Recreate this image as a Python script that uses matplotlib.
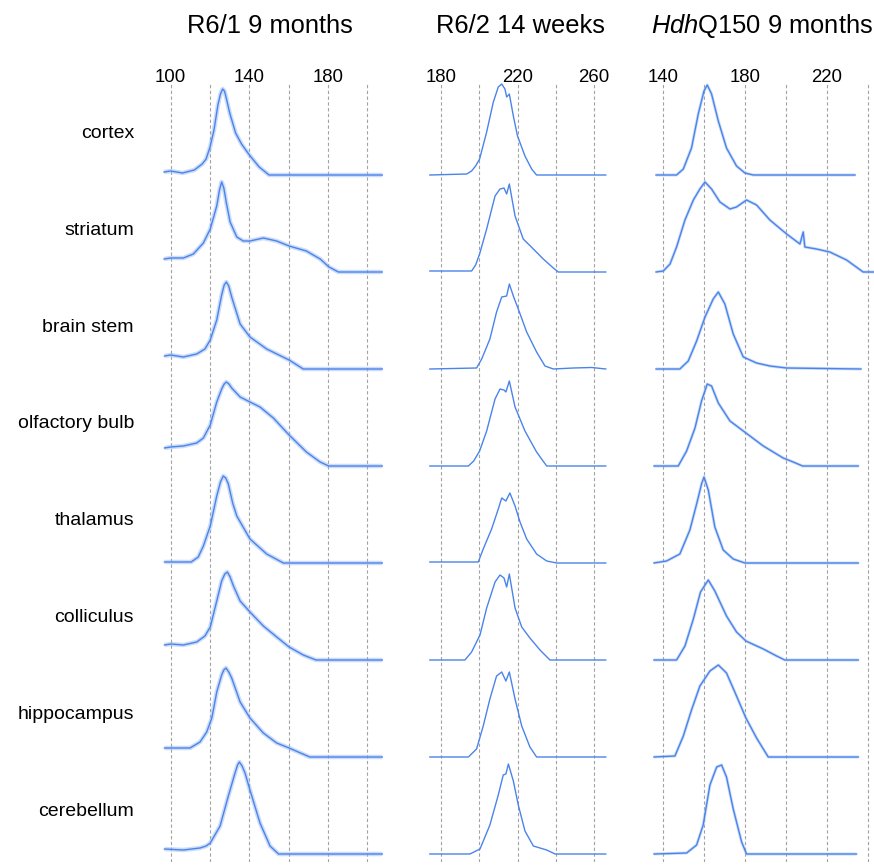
"""
CAG repeat size profiles across brain regions for three mouse lines.
Heights are read off the reference picture (pixels above each trace's baseline).
"""

import matplotlib
matplotlib.use("Agg")
import matplotlib.pyplot as plt
from matplotlib.transforms import blended_transform_factory

plt.rcParams["font.family"] = ["Liberation Sans", "DejaVu Sans"]
plt.rcParams["mathtext.fontset"] = "custom"
plt.rcParams["mathtext.rm"] = "Liberation Sans"
plt.rcParams["mathtext.it"] = "Liberation Sans:italic"

REGIONS = ["cortex", "striatum", "brain stem", "olfactory bulb",
           "thalamus", "colliculus", "hippocampus", "cerebellum"]
TITLES = ["R6/1 9 months", "R6/2 14 weeks", r"$\it{Hdh}$Q150 9 months"]
TICK_LABELS = [[100, 140, 180], [180, 220, 260], [140, 180, 220]]
GRID_VALUES = [list(range(100, 201, 20)), list(range(180, 261, 20)), list(range(140, 241, 20))]

# ---- R6/1 9 months ----
r61_cortex_x = [96.6, 100, 106, 112, 116, 118, 120, 122, 124, 125.3, 126.4, 127.3, 128, 130, 133, 136, 140, 145, 150, 207.6]
r61_cortex_h = [3, 4, 2, 5, 11, 16, 28, 45, 70, 81, 86, 84, 79, 62, 42, 31, 20, 8, 0, 0]
r61_striatum_x = [96.6, 100, 106.4, 111.5, 116.6, 120.1, 123.4, 124.8, 125.9, 127, 128.4, 130.2, 133.6, 136.9, 140.3,
                  147.1, 153.9, 160.2, 169, 176, 180.5, 185.3, 207.6]
r61_striatum_h = [13, 14, 14, 18, 29, 43, 66, 82, 90, 84, 68, 50, 35, 31, 31, 34, 31, 26, 21, 13, 5, 0, 0]
r61_brainstem_x = [96.8, 100, 106.4, 113.2, 117.4, 120.1, 123.4, 125.9, 127.2, 128.3, 129.5, 131, 135.3, 140.3,
                   148.8, 160.2, 167.4, 207.6]
r61_brainstem_h = [13, 14, 12, 15, 20, 29, 49, 74, 84, 87, 83, 72, 45, 32, 20, 9, 0, 0]
r61_olfactory_x = [96.8, 100, 106.4, 113.2, 116.6, 120.1, 123.4, 125.9, 127.2, 128.3, 129.6, 131, 135.3, 140.3, 145.4,
                   152.2, 160.2, 169, 176, 180.3, 207.6]
r61_olfactory_h = [18, 19, 20, 23, 28, 41, 64, 77, 82, 84, 82, 78, 69, 64, 59, 48, 31, 14, 4, 0, 0]
r61_thalamus_x = [96.8, 110.4, 114, 116.6, 120.1, 123.4, 125.3, 126.7, 128, 129.3, 131.5, 133.6, 140.3, 148.8, 157.3, 207.6]
r61_thalamus_h = [1, 1, 6, 17, 37, 67, 81, 87, 85, 79, 60, 47, 24, 9, 0, 0]
r61_colliculus_x = [96.8, 100, 106.4, 113.2, 117.4, 120.1, 123.4, 125.9, 127.5, 128.8, 130.2, 131.9, 135.3, 140.3,
                    147.1, 153.9, 160.2, 167.4, 173.9, 207.6]
r61_colliculus_h = [15, 16, 15, 18, 24, 33, 59, 79, 86, 88, 83, 74, 59, 48, 34, 23, 13, 5, 0, 0]
r61_hippocampus_x = [96.8, 100, 109.8, 114.9, 118.3, 120.9, 123.4, 125.9, 127, 128.1, 129.5, 131, 135.3, 140.3,
                     147.1, 153.9, 160.2, 170.7, 207.6]
r61_hippocampus_h = [9, 9, 9, 15, 25, 39, 65, 82, 87, 89, 85, 79, 55, 39, 24, 14, 9, 0, 0]
r61_cerebellum_x = [96.8, 106.4, 114.9, 118, 120.1, 125.1, 129.3, 132.7, 134, 134.9, 136.3, 137.8, 140.3, 145.4,
                    150.5, 154.8, 207.6]
r61_cerebellum_h = [5, 4, 6, 8, 11, 28, 58, 81, 89, 92, 88, 81, 64, 31, 8, 0, 0]

# ---- R6/2 14 weeks ----
r62_cortex_x = [174, 193.3, 195.9, 198, 200.1, 203.8, 207.3, 209.9, 211.7, 213.4, 214.3, 215.7, 217.8, 220, 223.9,
                227.4, 230, 266.3]
r62_cortex_h = [0, 1, 4, 9, 16, 43, 73, 88, 91, 86, 78, 81, 59, 39, 19, 6, 0, 0]
r62_striatum_x = [174, 195.9, 198, 200.1, 203.8, 208.2, 210.8, 212.9, 214.3, 215.7, 218.7, 223, 228.3, 233.5, 238.8,
                  241.4, 266.3]
r62_striatum_h = [1, 1, 7, 18, 43, 76, 83, 84, 78, 88, 56, 33, 23, 13, 4, 0, 0]
r62_brainstem_x = [174, 198.5, 201.2, 205.5, 209, 211.7, 214.3, 215.7, 217.8, 220.4, 224.8, 230, 234.4, 238.8,
                   249.3, 259, 266.3]
r62_brainstem_h = [0, 1, 10, 30, 57, 72, 73, 85, 73, 60, 37, 17, 3, 0, 1, 1.5, 0]
r62_olfactory_x = [174, 194.2, 197, 200.1, 203.8, 208.2, 210.8, 212.9, 213.9, 215.7, 218.7, 223.9, 230, 235.3, 266.3]
r62_olfactory_h = [0, 0, 5, 15, 35, 67, 77, 76, 74, 85, 59, 35, 14, 0, 0]
r62_thalamus_x = [174, 199.4, 202, 206.4, 209.9, 211.7, 213.9, 216, 218.7, 221.3, 224.8, 230, 235.3, 240.5, 266.3]
r62_thalamus_h = [1, 1, 14, 34, 54, 65, 62, 70, 57, 41, 24, 9, 2, 0, 0]
r62_colliculus_x = [174, 192.4, 195.9, 200.3, 203.8, 208.2, 210.8, 212.9, 214.3, 215.7, 218.7, 222.2, 226.5, 231.8,
                    237, 266.3]
r62_colliculus_h = [0, 0, 8, 25, 52, 78, 85, 82, 73, 86, 52, 33, 22, 10, 0, 0]
r62_hippocampus_x = [174, 194.2, 198.5, 202, 205.5, 209, 211.7, 213.9, 215.7, 218.7, 222.2, 226.5, 230, 266.3]
r62_hippocampus_h = [0, 0, 8, 31, 58, 81, 85, 76, 85, 58, 31, 10, 0, 0]
r62_cerebellum_x = [174, 195, 200.3, 205.5, 209.9, 212.5, 213.9, 215.2, 217.8, 220.4, 223.9, 228.3, 235.3, 239.7, 266.3]
r62_cerebellum_h = [0, 0, 5, 29, 59, 79, 80, 90, 73, 49, 23, 8, 4, 0, 0]

# ---- HdhQ150 9 months ----
q150_cortex_x = [136.4, 146.5, 149.8, 153.8, 157.1, 159.9, 161.5, 163.6, 166.9, 170.9, 175.8, 179.9, 184, 233.8]
q150_cortex_h = [0, 0, 6, 27, 61, 84, 90, 81, 54, 27, 9, 2, 0, 0]
q150_striatum_x = [136.4, 140, 143.3, 146.5, 150.6, 154.7, 157.9, 160.4, 163.6, 167.7, 172.6, 175.8, 180.7,
                   185.6, 192.1, 200.3, 206.8, 208.4, 209.2, 214.9, 221.4, 229.6, 237.7, 243.4]
q150_striatum_h = [0, 1, 8, 25, 52, 72, 83, 90, 83, 70, 63, 65, 72, 67, 52, 38, 28, 40, 25, 23, 20, 12, 0, 0]
q150_brainstem_x = [136.4, 148.1, 152.2, 156.3, 160.4, 164.4, 166.9, 170.1, 174.2, 179.1, 185.6, 192.1, 200.3, 236.7]
q150_brainstem_h = [0, 0, 8, 28, 52, 70, 77, 65, 35, 12, 6, 3, 1, 0]
q150_olfactory_x = [135.4, 147.3, 151.4, 155.5, 158.7, 161.5, 163.6, 166.9, 172.6, 180.4, 188.9, 198.6, 203.5,
                    208.1, 235.4]
q150_olfactory_h = [0, 0, 15, 38, 65, 82, 80, 63, 45, 33, 20, 8, 4, 0, 0]
q150_thalamus_x = [135.4, 141.6, 148.1, 153, 156.3, 158.7, 159.9, 162, 165.2, 169.3, 174.2, 179.9, 235.4]
q150_thalamus_h = [0, 2, 9, 33, 59, 79, 86, 73, 36, 13, 4, 0, 0]
q150_colliculus_x = [135.4, 146.5, 150.6, 154.7, 158.2, 162, 165.2, 170.9, 175.8, 180.4, 188.9, 195.4, 199.4, 235.4]
q150_colliculus_h = [0, 0, 14, 41, 68, 80, 69, 44, 28, 19, 11, 4, 0, 0]
q150_hippocampus_x = [135.4, 145.7, 149.8, 153.8, 157.9, 162.8, 166.9, 170.9, 175.8, 180.4, 185.6, 191.3, 235.4]
q150_hippocampus_h = [0, 1, 21, 47, 71, 86, 92, 84, 61, 39, 19, 0, 0]
q150_cerebellum_x = [135.4, 151.4, 156.3, 159.5, 162.8, 166.1, 168.5, 170.9, 174.2, 178.3, 180.7, 234.5]
q150_cerebellum_h = [0, 1, 9, 29, 69, 87, 89, 77, 45, 12, 0, 0]

R61 = [(r61_cortex_x, r61_cortex_h), (r61_striatum_x, r61_striatum_h), (r61_brainstem_x, r61_brainstem_h),
       (r61_olfactory_x, r61_olfactory_h), (r61_thalamus_x, r61_thalamus_h), (r61_colliculus_x, r61_colliculus_h),
       (r61_hippocampus_x, r61_hippocampus_h), (r61_cerebellum_x, r61_cerebellum_h)]
R62 = [(r62_cortex_x, r62_cortex_h), (r62_striatum_x, r62_striatum_h), (r62_brainstem_x, r62_brainstem_h),
       (r62_olfactory_x, r62_olfactory_h), (r62_thalamus_x, r62_thalamus_h), (r62_colliculus_x, r62_colliculus_h),
       (r62_hippocampus_x, r62_hippocampus_h), (r62_cerebellum_x, r62_cerebellum_h)]
Q150 = [(q150_cortex_x, q150_cortex_h), (q150_striatum_x, q150_striatum_h), (q150_brainstem_x, q150_brainstem_h),
        (q150_olfactory_x, q150_olfactory_h), (q150_thalamus_x, q150_thalamus_h), (q150_colliculus_x, q150_colliculus_h),
        (q150_hippocampus_x, q150_hippocampus_h), (q150_cerebellum_x, q150_cerebellum_h)]
COLUMNS = [R61, R62, Q150]

W, H = 874, 865
LINE = "#4a84ea"
HALO = "#8fb2f2"
GRID = "#a3a3a3"
ROW_STEP = 97
# the stuttered traces (R6/1, HdhQ150) look fuzzy in the original, so they get a soft halo
HALO_WIDTH = [3.2, 0, 2.2]


def main() -> None:
    fig = plt.figure(figsize=(W / 100, H / 100), dpi=100)

    # pixel layout of each column: (left px, width px, xlim)
    layout = [(160.9, 226.1, (95, 210)),
              (422.25, 190.55, (170, 270)),
              (651.0, 223.0, (134, 243))]
    title_x = [269.5, 520, 761.7]
    top_px, bot_px = 82, 862

    for col, (left, width, xlim) in enumerate(layout):
        ax = fig.add_axes([left / W, (H - bot_px) / H, width / W, (bot_px - top_px) / H])
        ax.set_xlim(*xlim)
        ax.set_ylim(93 - (bot_px - top_px), 93)
        ax.axis("off")

        for g in GRID_VALUES[col]:
            ax.axvline(g, color=GRID, lw=0.8, ls=(0, (3, 2.2)), zorder=1)

        for i, (xs, hs) in enumerate(COLUMNS[col]):
            ys = [h - ROW_STEP * i for h in hs]
            if HALO_WIDTH[col]:
                ax.plot(xs, ys, color=HALO, lw=HALO_WIDTH[col], alpha=0.45,
                        solid_joinstyle="round", solid_capstyle="butt", zorder=2)
            ax.plot(xs, ys, color=LINE, lw=1.0, solid_joinstyle="round", zorder=3)

        tr = blended_transform_factory(ax.transData, fig.transFigure)
        for t in TICK_LABELS[col]:
            ax.text(t, 1 - 81.5 / H, str(t), transform=tr, ha="center", va="baseline", fontsize=13.4)

        fig.text(title_x[col] / W, 1 - 33.3 / H, TITLES[col], ha="center", va="baseline", fontsize=18.4)

    for i, name in enumerate(REGIONS):
        fig.text(134 / W, 1 - (138 + 96.8 * i) / H, name, ha="right", va="baseline", fontsize=14)

    fig.savefig("out.png", dpi=100)
    plt.close(fig)


if __name__ == "__main__":
    main()
